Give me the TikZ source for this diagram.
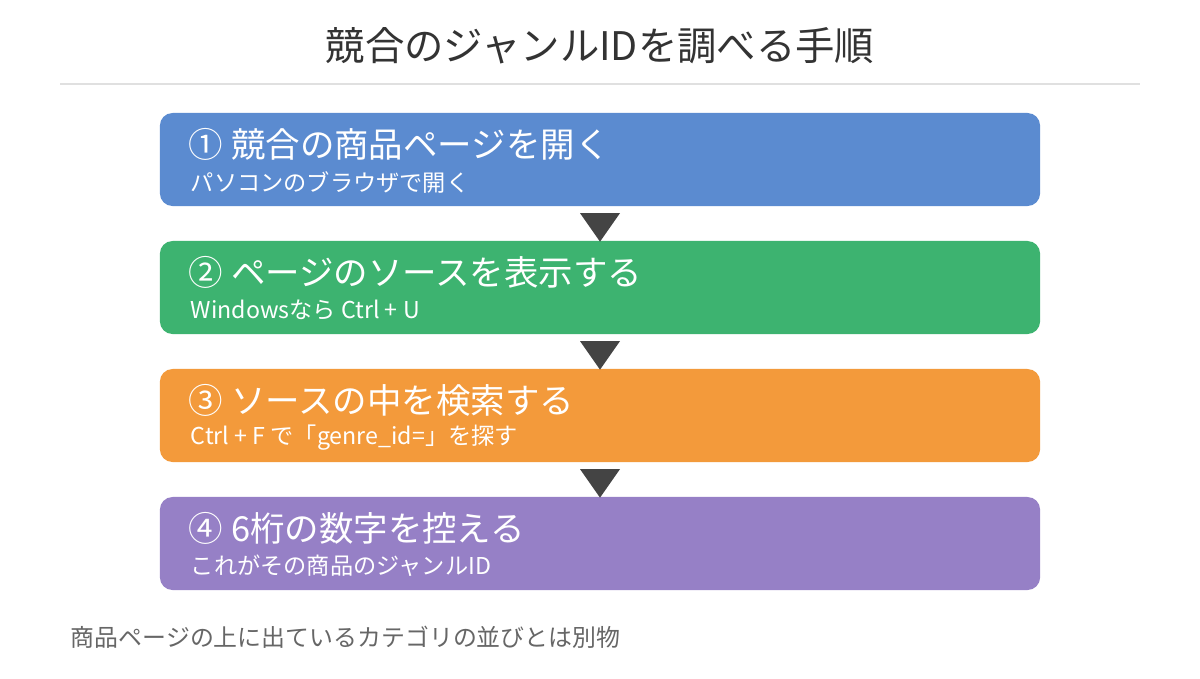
\documentclass[tikz,border=0pt]{standalone}
\usepackage{fontspec}
\setmainfont{Noto Sans CJK JP}
\usetikzlibrary{positioning,shapes.geometric,calc}
\definecolor{stepblue}{HTML}{5B8BD0}
\definecolor{stepgreen}{HTML}{3DB370}
\definecolor{steporange}{HTML}{F39A3B}
\definecolor{steppurple}{HTML}{9680C6}
\definecolor{arrowgray}{HTML}{444444}
\tikzset{
  stepbox/.style={rounded corners=9pt, minimum width=22cm, minimum height=2.325cm, inner sep=0pt},
  head/.style={font=\fontsize{24.5}{28}\selectfont, text=white, anchor=west},
  sub/.style={font=\fontsize{16.5}{19}\selectfont, text=white, anchor=west},
  down/.style={isosceles triangle, shape border rotate=270, fill=arrowgray, isosceles triangle apex angle=70, minimum width=1cm, inner sep=0pt}
}
\begin{document}
\begin{tikzpicture}[x=0.025cm,y=-0.025cm]
\useasboundingbox (0,0) rectangle (1200,678);

% Title
\node[font=\fontsize{28}{32}\selectfont, text=black!80] (title) at (600,46) {競合のジャンルIDを調べる手順};
\draw[black!12, line width=1.2pt] (60,84) -- (1140,84);

% Steps
\node[stepbox, fill=stepblue]   (s1) at (600,159.5) {};
\node[stepbox, fill=stepgreen]  (s2) at (600,287.5) {};
\node[stepbox, fill=steporange] (s3) at (600,415.5) {};
\node[stepbox, fill=steppurple] (s4) at (600,543.5) {};

\node[head] at (184,144) {① 競合の商品ページを開く};
\node[sub]  at (186,182) {パソコンのブラウザで開く};
\node[head] at (184,272) {② ページのソースを表示する};
\node[sub]  at (186,310) {Windowsなら Ctrl + U};
\node[head] at (184,400) {③ ソースの中を検索する};
\node[sub]  at (186,438) {Ctrl + F で「genre\_id=」を探す};
\node[head] at (184,528) {④ 6桁の数字を控える};
\node[sub]  at (186,566) {これがその商品のジャンルID};

% Arrows between steps
\foreach \a/\b in {s1/s2, s2/s3, s3/s4} {
  \node[down] at ($(\a.south)!0.5!(\b.north)$) {};
}

% Note
\node[font=\fontsize{17}{20}\selectfont, text=black!60, anchor=west] (note) at (66,637) {商品ページの上に出ているカテゴリの並びとは別物};
\end{tikzpicture}
\end{document}
